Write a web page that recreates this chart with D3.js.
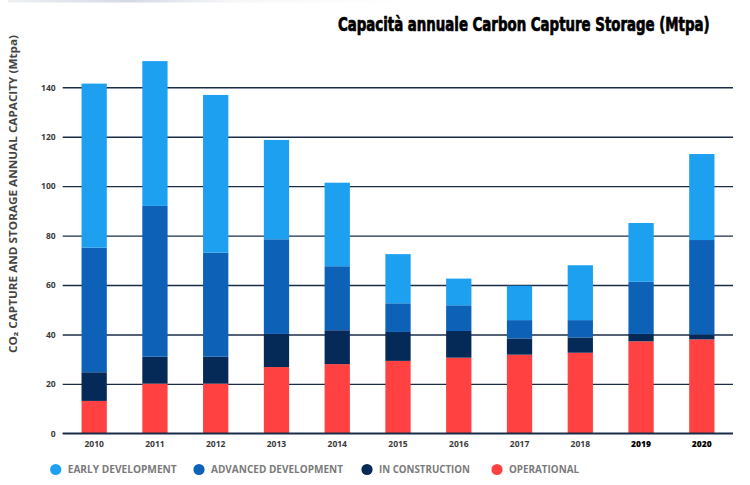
<!DOCTYPE html>
<html>
<head>
<meta charset="utf-8">
<script src="https://cdn.jsdelivr.net/npm/d3@7"></script>
<style>
  html, body { margin: 0; padding: 0; background: #fff; }
  svg { display: block; }
</style>
</head>
<body>
<svg id="chart" width="750" height="485"></svg>
<script>
// ---- data ----
const years = ["2010","2011","2012","2013","2014","2015","2016","2017","2018","2019","2020"];
const operational = [13.1, 20.1, 20.1, 26.8, 28.0, 29.3, 30.6, 31.8, 32.6, 37.2, 38.0];
const inConstruction = [11.6, 10.9, 10.9, 13.4, 13.7, 11.7, 10.8, 6.6, 6.2, 3.0, 2.0];
const advancedDevelopment = [50.4, 61.0, 42.1, 38.3, 25.9, 11.6, 10.4, 7.4, 7.0, 21.1, 38.2];
const earlyDevelopment = [66.4, 58.6, 63.8, 40.2, 33.8, 19.9, 10.8, 13.9, 22.2, 23.8, 34.8];
const yTicks = [0, 20, 40, 60, 80, 100, 120, 140];
const seriesNames = ["OPERATIONAL", "IN CONSTRUCTION", "ADVANCED DEVELOPMENT", "EARLY DEVELOPMENT"];
const legendOrder = ["EARLY DEVELOPMENT", "ADVANCED DEVELOPMENT", "IN CONSTRUCTION", "OPERATIONAL"];
const colors = ["#ff4141", "#062a57", "#0d62b8", "#1ea0f0"];

const svg = d3.select("#chart");
const font = "'Open Sans', 'DejaVu Sans', sans-serif";

// faint top band
const defs = svg.append("defs");
const grad = defs.append("linearGradient").attr("id", "topg").attr("x1", "0").attr("x2", "1");
grad.append("stop").attr("offset", "0").attr("stop-color", "#eef0f4");
grad.append("stop").attr("offset", "0.3").attr("stop-color", "#d4dae4");
grad.append("stop").attr("offset", "0.55").attr("stop-color", "#f4f6f8");
grad.append("stop").attr("offset", "1").attr("stop-color", "#ffffff");
svg.append("rect").attr("x", 8).attr("y", 0).attr("width", 400).attr("height", 2.5).attr("fill", "url(#topg)");

const table = years.map((y, i) => ({
  year: y,
  "OPERATIONAL": operational[i],
  "IN CONSTRUCTION": inConstruction[i],
  "ADVANCED DEVELOPMENT": advancedDevelopment[i],
  "EARLY DEVELOPMENT": earlyDevelopment[i]
}));

const x = d3.scaleBand().domain(years).range([63, 733]).paddingInner(0.584).paddingOuter(0.305);
const y = d3.scaleLinear().domain([0, 140]).range([433.3, 87.3]);
const color = d3.scaleOrdinal().domain(seriesNames).range(colors);

// gridlines via axis
const yAxis = d3.axisLeft(y).tickValues(yTicks).tickSize(-(733 - 62.7)).tickFormat(d3.format("d")).tickPadding(7);
const gAxis = svg.append("g").attr("transform", "translate(62.7,0)").call(yAxis);
gAxis.select(".domain").remove();
gAxis.selectAll(".tick line").attr("stroke", "#1b2c48").attr("stroke-width", 1.4);
gAxis.selectAll(".tick text")
  .attr("font-family", font).attr("font-size", 8.5).attr("font-weight", 700).attr("fill", "#3a3a3a");

// stacked bars
const stack = d3.stack().keys(seriesNames)(table);
svg.append("g").selectAll("g").data(stack).join("g")
  .attr("fill", d => color(d.key))
  .selectAll("rect").data(d => d).join("rect")
  .attr("x", d => x(d.data.year))
  .attr("width", x.bandwidth())
  .attr("y", d => y(d[1]))
  .attr("height", d => y(d[0]) - y(d[1]));

// redraw baseline over bars
svg.append("line").attr("x1", 62.7).attr("x2", 733).attr("y1", y(0)).attr("y2", y(0))
  .attr("stroke", "#1b2c48").attr("stroke-width", 1.6);

// x axis labels
const xAxis = d3.axisBottom(x).tickSize(0).tickPadding(0);
const gx = svg.append("g").attr("transform", "translate(0,444)").call(xAxis);
gx.select(".domain").remove();
gx.selectAll(".tick text")
  .attr("dy", "0.32em")
  .attr("font-family", font).attr("font-size", 8.5)
  .attr("font-weight", d => (d === "2019" || d === "2020") ? 800 : 700)
  .attr("fill", d => (d === "2019" || d === "2020") ? "#000" : "#3a3a3a");

// y axis title
svg.append("text")
  .attr("transform", "translate(17,194) rotate(-90)")
  .attr("text-anchor", "middle")
  .attr("font-family", font).attr("font-size", 10).attr("font-weight", 700).attr("fill", "#444")
  .attr("textLength", 318).attr("lengthAdjust", "spacingAndGlyphs")
  .text("CO₂ CAPTURE AND STORAGE ANNUAL CAPACITY (Mtpa)");

// title: natural width measured, then compressed horizontally to fit
const titleG = svg.append("g");
const title = titleG.append("text")
  .attr("x", 0).attr("y", 0)
  .attr("text-anchor", "start")
  .attr("font-family", "'DejaVu Sans Condensed', sans-serif")
  .attr("font-size", 19).attr("font-weight", 700).attr("fill", "#000")
  .attr("stroke", "#000").attr("stroke-width", 0.7)
  .text("Capacità annuale Carbon Capture Storage (Mtpa)");
const tw = title.node().getComputedTextLength();
titleG.attr("transform", `translate(338,31) scale(${372 / tw},1)`);

// legend
const legendX = [55.7, 199, 367, 497];
const legendW = [109, 132, 91, 70];
const lg = svg.append("g").selectAll("g").data(legendOrder).join("g")
  .attr("transform", (d, i) => `translate(${legendX[i]},469.5)`);
lg.append("circle").attr("r", 5.6).attr("fill", d => color(d));
lg.append("text").attr("x", 12).attr("dy", "0.35em")
  .attr("font-family", font).attr("font-size", 10).attr("font-weight", 700).attr("fill", "#7a7a7a")
  .attr("textLength", (d, i) => legendW[i]).attr("lengthAdjust", "spacingAndGlyphs")
  .text(d => d);
</script>
</body>
</html>
